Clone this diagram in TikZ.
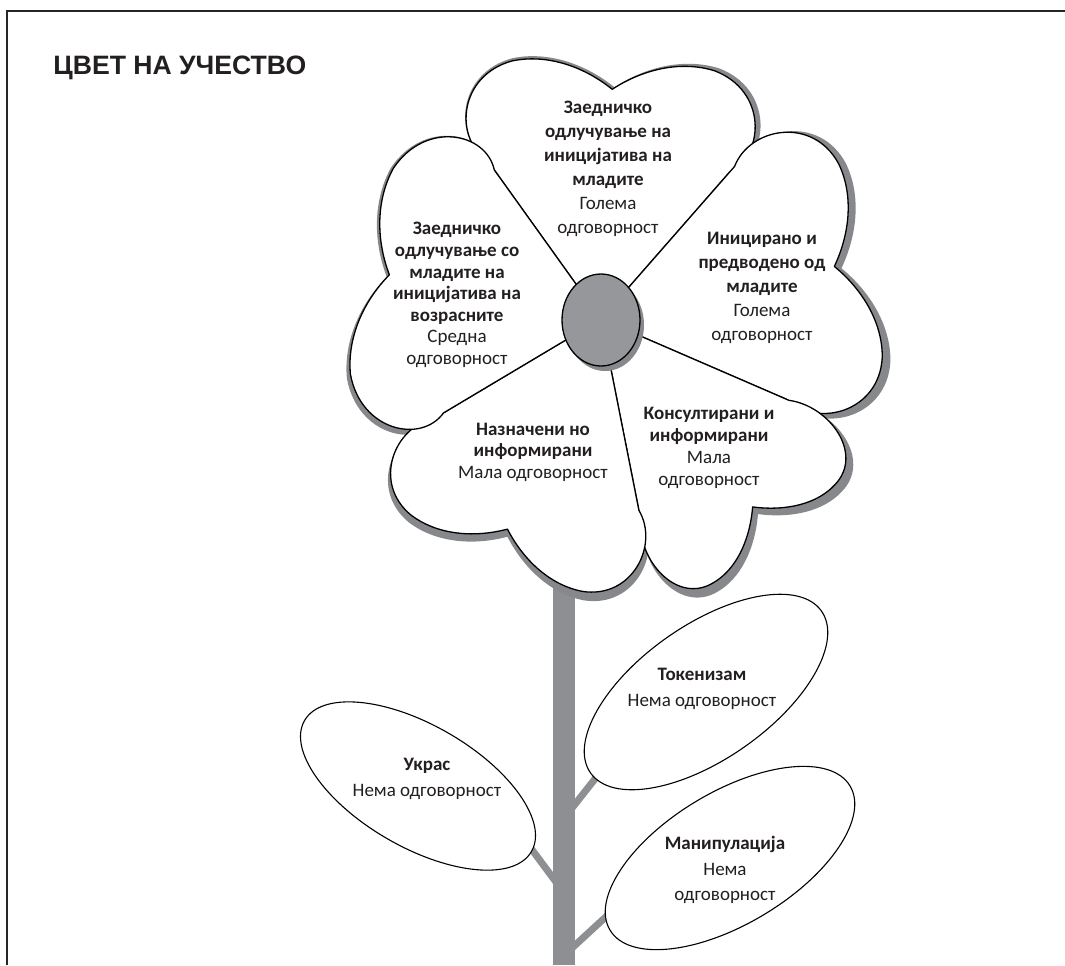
\documentclass[tikz,border=0pt]{standalone}
\usepackage{fontspec}
\setmainfont{Carlito}
\newfontfamily\titlefont{Liberation Sans}
\usepackage{xcolor}

\definecolor{stemgray}{RGB}{141,143,146}
\definecolor{shadowgray}{RGB}{134,136,139}
\definecolor{discgray}{RGB}{150,151,154}
\definecolor{ink}{RGB}{35,31,32}

% one petal: point at the origin, notch on the +x axis
\newcommand{\petalpath}[2]{(0,0) -- ({#1}:{195*#2})
  .. controls ({1.094*#1}:{233*#2}) and ({0.864*#1}:{282*#2}) .. ({0.569*#1}:{273*#2})
  .. controls ({0.386*#1}:{271*#2}) and ({0.186*#1}:{255*#2}) .. (0:{230*#2})
  .. controls ({-0.186*#1}:{255*#2}) and ({-0.386*#1}:{271*#2}) .. ({-0.569*#1}:{273*#2})
  .. controls ({-0.864*#1}:{282*#2}) and ({-1.094*#1}:{233*#2}) .. ({-#1}:{195*#2}) -- cycle}

\tikzset{
  petal/.style={fill=white, draw=black, line width=0.65pt, line join=round},
  petalshadow/.style={fill=shadowgray},
  leaf/.style={fill=white, draw=black, line width=0.55pt},
  branch/.style={draw=stemgray, line width=3.5pt},
  ptext/.style={align=center, text=ink, inner sep=0pt},
}

\begin{document}
\begin{tikzpicture}[x=0.5pt, y=-0.5pt] % pixel grid, y pointing down
  \useasboundingbox (0,0) rectangle (1065,965);
  \draw[line width=1pt, draw=black!85] (7,965) -- (7,11) -- (1066,11);

  \node[anchor=base west, text=ink, inner sep=0pt,
        font=\titlefont\bfseries\fontsize{13.3}{16}\selectfont] (title) at (53,74) {ЦВЕТ НА УЧЕСТВО};

  % stem and branches
  \fill[stemgray] (553,540) rectangle (575,965);
  \coordinate (ukrasS) at (556,882);
  \coordinate (ukrasB) at (527,843);
  \coordinate (tokenS) at (572,808);
  \coordinate (tokenB) at (602,770);
  \coordinate (manipS) at (572,948);
  \coordinate (manipB) at (610,913);
  \draw[branch] (ukrasS) -- (ukrasB);
  \draw[branch] (tokenS) -- (tokenB);
  \draw[branch] (manipS) -- (manipB);

  % leaves
  \draw[leaf, rotate around={-30:(418,786)}] (418,786) ellipse [x radius=131, y radius=61];
  \draw[leaf, rotate around={35:(706,692)}] (706,692) ellipse [x radius=141, y radius=67];
  \draw[leaf, rotate around={31:(730,858)}] (730,858) ellipse [x radius=140, y radius=66];

  % petals
  \foreach \rot/\half/\s in {87.2/38.4/1.0, 12.7/36.1/1.04, -51.1/27.7/1.05, -114/35.2/1.0, 168.2/42.6/0.94}
    \fill[petalshadow, shift={(603,322)}, rotate=\rot] \petalpath{\half}{1.022*\s};
  \foreach \rot/\half/\s in {87.2/38.4/1.0, 12.7/36.1/1.04, -51.1/27.7/1.05, -114/35.2/1.0, 168.2/42.6/0.94}
    \draw[petal, shift={(601,319)}, rotate=\rot] \petalpath{\half}{\s};

  % centre of the flower
  \fill[shadowgray] (605,325) ellipse [x radius=39, y radius=46];
  \draw[fill=discgray, line width=0.65pt] (601,320) ellipse [x radius=39, y radius=46];

  \node[ptext, font=\fontsize{9.5}{12}\selectfont] (ptop) at (608,169)
    {\textbf{Заедничко}\\\textbf{одлучување на}\\\textbf{иницијатива на}\\\textbf{младите}\\Голема\\одговорност};
  \node[ptext, font=\fontsize{9.5}{10.8}\selectfont] (pleft) at (457,295)
    {\textbf{Заедничко}\\\textbf{одлучување со}\\\textbf{младите на}\\\textbf{иницијатива на}\\\textbf{возрасните}\\Средна\\одговорност};
  \node[ptext, font=\fontsize{9.5}{12}\selectfont] (pright) at (762,288)
    {\textbf{Иницирано и}\\\textbf{предводено од}\\\textbf{младите}\\Голема\\одговорност};
  \node[ptext, font=\fontsize{9.5}{10.8}\selectfont] (pbotleft) at (533,452)
    {\textbf{Назначени но}\\\textbf{информирани}\\Мала одговорност};
  \node[ptext, font=\fontsize{9.5}{11}\selectfont] (pbotright) at (709,448)
    {\textbf{Консултирани и}\\\textbf{информирани}\\Мала\\одговорност};

  \node[ptext, font=\fontsize{9.5}{13}\selectfont] (ukras) at (427,779)
    {\textbf{Украс}\\Нема одговорност};
  \node[ptext, font=\fontsize{9.5}{13}\selectfont] (token) at (702,689)
    {\textbf{Токенизам}\\Нема одговорност};
  \node[ptext, font=\fontsize{9.5}{12.7}\selectfont] (manip) at (725,870)
    {\textbf{Манипулација}\\Нема\\одговорност};
\end{tikzpicture}
\end{document}
